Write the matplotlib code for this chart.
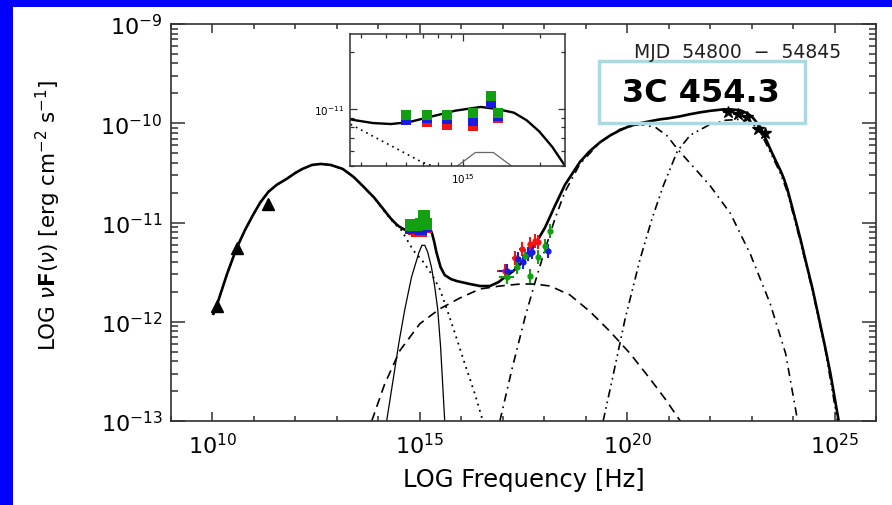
import numpy as np
import matplotlib.pyplot as plt
from matplotlib.patches import Rectangle
from matplotlib.ticker import FixedLocator, NullFormatter, LogLocator

plt.rcParams['font.family'] = ['DejaVu Sans']
plt.rcParams['mathtext.fontset'] = 'dejavusans'

# ---- model curves, log10(nu) / log10(nuFnu) ----
tot_lx = [10.02, 10.10, 10.35, 10.58, 10.78, 10.97, 11.15, 11.35, 11.55, 11.79, 12.00,
          12.17, 12.40, 12.61, 12.85, 13.14, 13.40, 13.62, 13.90, 14.11, 14.30, 14.44,
          14.50, 14.58, 14.65, 14.72, 14.79, 14.85, 14.91, 14.97, 15.02, 15.07, 15.13,
          15.20, 15.25, 15.30, 15.35, 15.40, 15.50, 15.60, 15.75, 15.89, 16.21, 16.45,
          16.69, 16.90, 17.05, 17.25, 17.42, 17.60, 17.78, 18.02, 18.26, 18.50, 18.86,
          19.10, 19.35, 19.60, 19.83, 20.05, 20.31, 20.55, 20.80, 21.00, 21.28, 21.50,
          21.76, 22.00, 22.32, 22.50, 22.73, 22.90, 23.02, 23.10, 23.21, 23.30, 23.45,
          23.55, 23.70, 23.78, 23.86, 24.00, 24.18, 24.30, 24.47, 24.60, 24.78, 24.90, 25.10]
tot_ly = [-11.92, -11.84, -11.52, -11.26, -11.08, -10.93, -10.80, -10.69, -10.62, -10.56, -10.50,
          -10.46, -10.42, -10.41, -10.42, -10.46, -10.54, -10.63, -10.75, -10.86, -10.96, -11.02,
          -11.04, -11.06, -11.075, -11.08, -11.07, -11.05, -11.03, -11.01, -11.00, -10.99, -11.00,
          -11.02, -11.06, -11.12, -11.20, -11.30, -11.45, -11.53, -11.57, -11.59, -11.62, -11.64,
          -11.64, -11.60, -11.55, -11.49, -11.42, -11.33, -11.22, -11.05, -10.83, -10.62, -10.39,
          -10.28, -10.19, -10.12, -10.07, -10.03, -10.00, -9.98, -9.96, -9.95, -9.93, -9.91,
          -9.89, -9.875, -9.86, -9.86, -9.87, -9.90, -9.94, -9.98, -10.04, -10.12, -10.26,
          -10.35, -10.48, -10.56, -10.66, -10.88, -11.17, -11.38, -11.67, -11.92, -12.27, -12.52, -13.0]

syn_lx = [10.02, 10.10, 10.35, 10.58, 10.78, 10.97, 11.15, 11.35, 11.55, 11.79, 12.00,
          12.17, 12.40, 12.61, 12.85, 13.14, 13.40, 13.62, 13.90, 14.11, 14.30, 14.44,
          14.56, 14.70, 14.84, 15.07, 15.30, 15.48, 15.65, 15.85, 16.09, 16.33, 16.52]
syn_ly = [-11.92, -11.84, -11.52, -11.26, -11.08, -10.93, -10.80, -10.69, -10.62, -10.56, -10.50,
          -10.46, -10.42, -10.41, -10.42, -10.46, -10.54, -10.63, -10.75, -10.87, -10.97, -11.03,
          -11.08, -11.18, -11.28, -11.39, -11.53, -11.67, -11.87, -12.12, -12.43, -12.73, -13.0]

disk_lx = [14.20, 14.35, 14.50, 14.64, 14.80, 14.98, 15.05, 15.12, 15.19, 15.28, 15.36, 15.43, 15.50, 15.60]
disk_ly = [-13.0, -12.6, -12.2, -11.87, -11.55, -11.30, -11.23, -11.23, -11.30, -11.45, -11.65, -11.87, -12.25, -13.0]

ssc_lx = [13.84, 14.15, 14.52, 15.00, 15.48, 15.97, 16.45, 16.93, 17.42, 17.78, 18.14,
          18.62, 19.11, 19.59, 20.07, 20.56, 20.92, 21.28]
ssc_ly = [-13.0, -12.63, -12.29, -12.02, -11.87, -11.76, -11.67, -11.64, -11.62, -11.62, -11.64,
          -11.73, -11.90, -12.10, -12.32, -12.58, -12.78, -13.0]

ecA_lx = [16.93, 17.22, 17.54, 17.78, 18.02, 18.26, 18.50, 18.86, 19.35, 19.83, 20.31,
          20.68, 20.97, 21.21, 21.64, 22.00, 22.49, 22.97, 23.45, 23.82, 24.11]
ecA_ly = [-13.0, -12.48, -11.95, -11.60, -11.27, -10.96, -10.69, -10.41, -10.19, -10.06, -10.01,
          -10.04, -10.13, -10.26, -10.46, -10.63, -10.91, -11.32, -11.82, -12.32, -13.0]

ecB_lx = [19.42, 19.64, 19.95, 20.31, 20.60, 20.87, 21.21, 21.52, 21.96, 22.37, 22.73,
          23.02, 23.21, 23.45, 23.70, 23.86, 24.18, 24.47, 24.78, 25.07]
ecB_ly = [-13.0, -12.58, -11.97, -11.37, -10.96, -10.63, -10.28, -10.12, -10.02, -9.97, -9.96,
          -10.00, -10.09, -10.29, -10.51, -10.69, -11.20, -11.69, -12.29, -13.0]

# ---- data points ----
radio_lx = [10.12, 10.58, 11.35]
radio_ly = [-11.84, -11.26, -10.81]

opt_lx = [14.78, 14.86, 14.94, 15.04, 15.11, 15.14]
opt_green = [-11.03, -11.03, -11.03, -11.02, -10.93, -11.02]
opt_blue = [-11.06, -11.05, -11.055, -11.065, -10.97, -11.04]
opt_red = [-11.06, -11.07, -11.085, -11.09, -10.955, -11.05]

xr_red_lx = [17.05, 17.29, 17.46, 17.66, 17.78, 17.85]
xr_red_ly = [-11.49, -11.36, -11.27, -11.22, -11.19, -11.20]
xr_blue_lx = [17.10, 17.37, 17.49, 17.61, 17.71, 18.09]
xr_blue_ly = [-11.49, -11.37, -11.40, -11.32, -11.30, -11.29]
xr_green_lx = [17.10, 17.34, 17.54, 17.66, 17.85, 18.02, 18.14]
xr_green_ly = [-11.55, -11.45, -11.34, -11.54, -11.35, -11.24, -11.09]

gam_lx = [22.42, 22.66, 22.90, 23.16, 23.33]
gam_ly = [-9.89, -9.91, -9.94, -10.06, -10.10]

xtick_vals = [1e10, 1e15, 1e20, 1e25]
xtick_labels = [r'$10^{10}$', r'$10^{15}$', r'$10^{20}$', r'$10^{25}$']
ytick_vals = [1e-13, 1e-12, 1e-11, 1e-10, 1e-9]
ytick_labels = [r'$10^{-13}$', r'$10^{-12}$', r'$10^{-11}$', r'$10^{-10}$', r'$10^{-9}$']

p = lambda a: 10.0 ** np.array(a)

GREEN = '#12a012'
BLUE = '#1a1ae0'
RED = '#f01414'
AXC = '#303030'


def draw_models(ax, lw_tot, lw_c, disk_color='black'):
    ax.plot(p(ssc_lx), p(ssc_ly), color='black', lw=lw_c, ls=(0, (5.5, 3.5)))
    ax.plot(p(ecA_lx), p(ecA_ly), color='black', lw=lw_c, ls=(0, (5, 3, 1, 3)))
    ax.plot(p(ecB_lx), p(ecB_ly), color='black', lw=lw_c, ls=(0, (5, 2.5, 1, 2.5, 1, 2.5)))
    ax.plot(p(syn_lx), p(syn_ly), color='black', lw=lw_c * 1.1, ls=(0, (1, 2.5)))
    ax.plot(p(disk_lx), p(disk_ly), color=disk_color, lw=0.9)
    ax.plot(p(tot_lx), p(tot_ly), color='black', lw=lw_tot)


def draw_optical(ax, ms):
    ax.plot(p(opt_lx), p(opt_red), 's', color=RED, ms=ms, mew=0)
    ax.plot(p(opt_lx), p(opt_blue), 's', color=BLUE, ms=ms, mew=0)
    ax.plot(p(opt_lx), p(opt_green), 's', color=GREEN, ms=ms, mew=0)


fig = plt.figure(figsize=(8.92, 5.06), dpi=100)
ax = fig.add_axes([0.1917, 0.1660, 0.7904, 0.7846])
ax.set_xscale('log')
ax.set_yscale('log')

draw_models(ax, 1.9, 1.2)
draw_optical(ax, 8.5)
ax.plot(p(radio_lx), p(radio_ly), '^', color='black', ms=8)

for lx, ly, c in [(xr_red_lx, xr_red_ly, RED), (xr_blue_lx, xr_blue_ly, BLUE),
                  (xr_green_lx, xr_green_ly, GREEN)]:
    lx = np.array(lx)
    ly = np.array(ly)
    ex = np.full(len(lx), 0.06)
    ex[0] = 0.18
    ey = 0.07
    x = 10.0 ** lx
    y = 10.0 ** ly
    ax.errorbar(x, y, xerr=[x - 10 ** (lx - ex), 10 ** (lx + ex) - x],
                yerr=[y - 10 ** (ly - ey), 10 ** (ly + ey) - y],
                fmt='o', color=c, ms=3.5, elinewidth=1.5, capsize=0)

gx = 10.0 ** np.array(gam_lx)
ax.errorbar(gx, p(gam_ly), xerr=[gx - 10 ** (np.array(gam_lx) - 0.1), 10 ** (np.array(gam_lx) + 0.1) - gx],
            fmt='*', color='black', ms=9, elinewidth=1.2, capsize=0)

ax.set_xlim(1e9, 1e26)
ax.set_ylim(1e-13, 1e-9)
ax.set_xticks(xtick_vals)
ax.set_xticklabels(xtick_labels)
ax.xaxis.set_minor_locator(FixedLocator(10.0 ** np.arange(9, 27)))
ax.xaxis.set_minor_formatter(NullFormatter())
ax.set_yticks(ytick_vals)
ax.set_yticklabels(ytick_labels)
ax.yaxis.set_minor_locator(LogLocator(base=10, subs=np.arange(2, 10), numticks=20))
ax.yaxis.set_minor_formatter(NullFormatter())
ax.tick_params(which='both', direction='in', top=True, right=True, colors=AXC, width=1.1)
ax.tick_params(axis='x', which='major', length=6.5, pad=8, labelsize=16, labelcolor='black')
ax.tick_params(axis='x', which='minor', length=3.5)
ax.tick_params(axis='y', which='major', length=10, pad=6, labelsize=16, labelcolor='black')
ax.tick_params(axis='y', which='minor', length=5)
for s in ax.spines.values():
    s.set_color(AXC)
    s.set_linewidth(1.2)

ax.set_xlabel('LOG Frequency [Hz]', fontsize=17.5)
ax.xaxis.set_label_coords(0.5, -0.115)
ax.set_ylabel(r'LOG $\nu\mathbf{F}(\nu)$ [erg cm$^{-2}$ s$^{-1}$]', fontsize=15.5)
ax.yaxis.set_label_coords(-0.153, 0.52)

# ---- inset ----
axi = fig.add_axes([0.3924, 0.6700, 0.2410, 0.2609])
axi.set_xscale('log')
axi.set_yscale('log')
draw_models(axi, 1.7, 1.1, disk_color='#666666')
draw_optical(axi, 7)
axi.set_xlim(10 ** 14.56, 10 ** 15.40)
axi.set_ylim(5e-12, 2.48e-11)
axi.set_xticks([1e15])
axi.set_xticklabels([r'$10^{15}$'])
axi.xaxis.set_minor_formatter(NullFormatter())
axi.set_yticks([1e-11])
axi.set_yticklabels([r'$10^{-11}$'])
axi.yaxis.set_minor_formatter(NullFormatter())
axi.tick_params(which='both', direction='in', top=True, right=True, colors=AXC, width=0.9,
                labelsize=7.5, labelcolor='black')
axi.tick_params(which='major', length=5, pad=4)
axi.tick_params(which='minor', length=3)
for s in axi.spines.values():
    s.set_color(AXC)
    s.set_linewidth(1.1)

# ---- annotations ----
fig.text(0.8274, 0.8972, 'MJD  54800  \u2212  54845', fontsize=13.5, color='#202020',
         ha='center', va='center')
fig.patches.append(Rectangle((0.6715, 0.7549), 0.2309, 0.1225, transform=fig.transFigure,
                             fill=False, edgecolor='#add8e0', lw=2.5))
fig.text(0.7859, 0.8162, '3C 454.3', fontsize=23, fontweight='bold', color='black',
         ha='center', va='center')

# ---- blue frame ----
fig.patches.append(Rectangle((0, 1 - 7.5 / 506), 1, 7.5 / 506, transform=fig.transFigure,
                             color='#0000ff', lw=0))
fig.patches.append(Rectangle((0, 0), 13 / 892, 1, transform=fig.transFigure,
                             color='#0000ff', lw=0))

fig.savefig('out.png', dpi=100)
